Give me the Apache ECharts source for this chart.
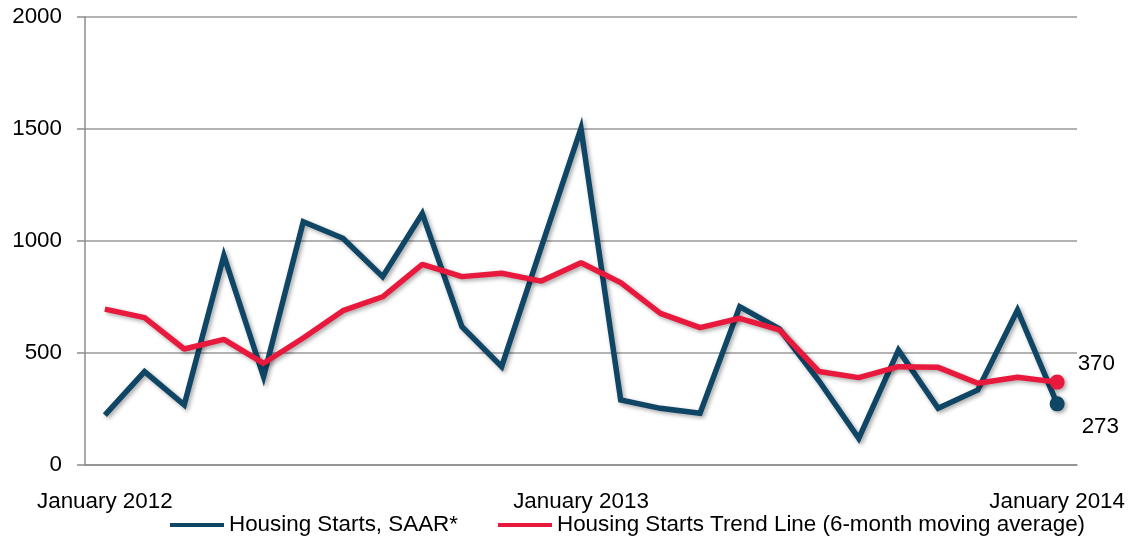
<!DOCTYPE html>
<html>
<head>
<meta charset="utf-8">
<script src="https://cdn.jsdelivr.net/npm/echarts@6/dist/echarts.min.js"></script>
<style>html,body{margin:0;padding:0;background:#fff;}#c{width:1137px;height:544px;}</style>
</head>
<body>
<div id="c"></div>
<script>
const months = ['January','February','March','April','May','June','July','August','September','October','November','December'];
const categories = [];
for (let y = 2012; y <= 2014; y++) {
  for (let m = 0; m < 12; m++) {
    if (y === 2014 && m > 0) break;
    categories.push(months[m] + ' ' + y);
  }
}
const startsSAAR = [223, 417, 268, 935, 394, 1086, 1012, 841, 1123, 617, 439, 973, 1503, 290, 253, 231, 707, 608, 375, 119, 513, 253, 335, 692, 273];
const trendLine  = [696, 658, 518, 561, 454, 567, 689, 751, 896, 841, 856, 821, 903, 814, 677, 613, 655, 603, 417, 390, 439, 436, 365, 392, 370];
const yTicks = [0, 500, 1000, 1500, 2000];

const FONT = '"Liberation Sans", Arial, sans-serif';
const FS = 22.4;
const last = categories.length - 1;
const shadow = {shadowColor: 'rgba(0,0,0,0.35)', shadowBlur: 4, shadowOffsetX: 2, shadowOffsetY: 2};

const chart = echarts.init(document.getElementById('c'), null, {renderer: 'canvas'});
chart.setOption({
  animation: false,
  textStyle: {fontFamily: FONT},
  grid: {left: 85, right: 60, top: 17, bottom: 79, containLabel: false},
  legend: {
    left: 165, top: 509,
    itemWidth: 54, itemHeight: 4, itemGap: 40,
    icon: 'rect',
    textStyle: {fontFamily: FONT, fontSize: FS, color: '#000'},
    data: ['Housing Starts, SAAR*', 'Housing Starts Trend Line (6-month moving average)']
  },
  xAxis: {
    type: 'category',
    data: categories,
    boundaryGap: true,
    axisLine: {show: true, lineStyle: {color: '#8c8c8c', width: 1.5}},
    axisTick: {show: false},
    axisLabel: {
      interval: function (i) { return i % 12 === 0; },
      fontFamily: FONT, fontSize: FS, color: '#000', margin: 26,
      showMinLabel: true, showMaxLabel: true
    },
    splitLine: {show: false}
  },
  yAxis: {
    type: 'value',
    min: yTicks[0], max: yTicks[yTicks.length - 1], interval: 500,
    axisLine: {show: true, lineStyle: {color: '#8c8c8c', width: 1.5}},
    axisTick: {show: true, length: 8, lineStyle: {color: '#8c8c8c', width: 1.5}},
    axisLabel: {fontFamily: FONT, fontSize: FS, color: '#000', margin: 23,
                formatter: function (v) { return String(v); }},
    splitLine: {show: true, lineStyle: {color: '#9a9a9a', width: 1.5}}
  },
  series: [
    {
      name: 'Housing Starts, SAAR*',
      type: 'line',
      data: startsSAAR,
      color: '#0f4565',
      showSymbol: false,
      lineStyle: Object.assign({width: 5.5, color: '#0f4565', join: 'miter'}, shadow),
      z: 2,
      markPoint: {
        symbol: 'circle', symbolSize: 15,
        itemStyle: Object.assign({color: '#0f4565'}, shadow),
        label: {show: true, position: 'right', distance: 12, offset: [5, 23],
                fontFamily: FONT, fontSize: FS, color: '#000',
                formatter: function (p) { return String(p.value); }},
        data: [{coord: [categories[last], startsSAAR[last]], value: startsSAAR[last]}]
      }
    },
    {
      name: 'Housing Starts Trend Line (6-month moving average)',
      type: 'line',
      data: trendLine,
      color: '#e8193c',
      showSymbol: false,
      lineStyle: Object.assign({width: 5.5, color: '#e8193c'}, shadow),
      z: 3,
      markPoint: {
        symbol: 'circle', symbolSize: 15,
        itemStyle: Object.assign({color: '#e8193c'}, shadow),
        label: {show: true, position: 'right', distance: 12, offset: [1, -18],
                fontFamily: FONT, fontSize: FS, color: '#000',
                formatter: function (p) { return String(p.value); }},
        data: [{coord: [categories[last], trendLine[last]], value: trendLine[last]}]
      }
    }
  ]
});
</script>
</body>
</html>
